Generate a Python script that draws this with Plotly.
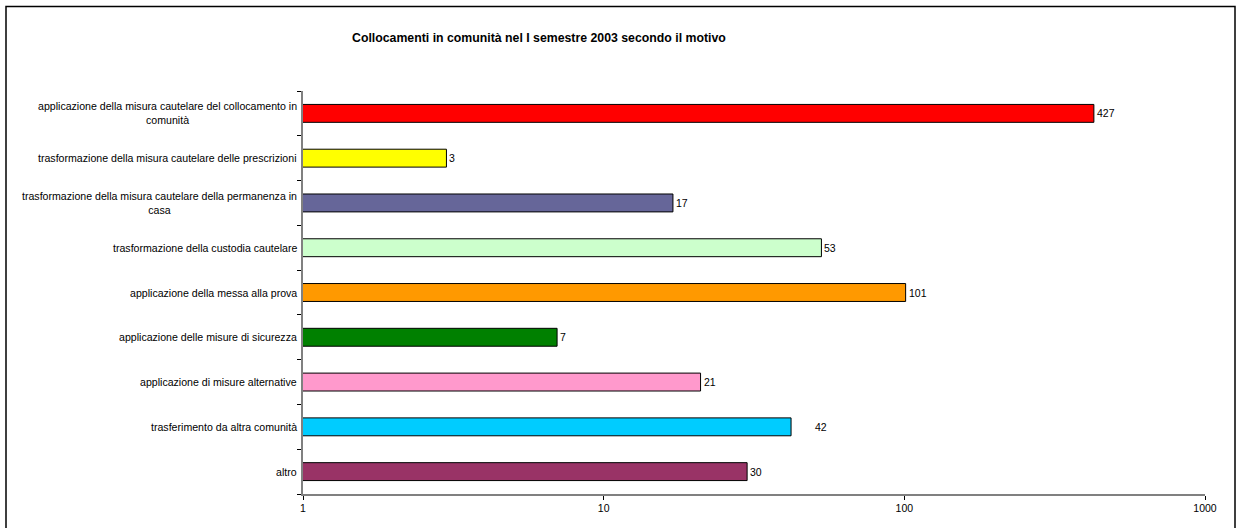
import math
import plotly.graph_objects as go

categories = [
    "applicazione della misura cautelare del collocamento in<br>comunità",
    "trasformazione della misura cautelare delle prescrizioni",
    "trasformazione della misura cautelare della permanenza in<br>casa",
    "trasformazione della custodia cautelare",
    "applicazione della messa alla prova",
    "applicazione delle misure di sicurezza",
    "applicazione di misure alternative",
    "trasferimento da altra comunità",
    "altro",
]
values = [427, 3, 17, 53, 101, 7, 21, 42, 30]
colors = ["#FF0000", "#FFFF00", "#666699", "#CCFFCC", "#FF9900",
          "#008000", "#FF99CC", "#00CCFF", "#993366"]
label_shift = [1, 1, 1, 1, 1, 1, 1, 22, 1]
title = "Collocamenti in comunità nel I semestre 2003 secondo il motivo"
x_ticks = [1, 10, 100, 1000]

FONT = "Liberation Sans, Arial, sans-serif"
W, H = 1237, 528
L, R, T, B = 303, 32, 90.5, 34
PW, PH = W - L - R, H - T - B

fig = go.Figure(go.Bar(
    y=categories, x=values, orientation="h",
    marker=dict(color=colors, line=dict(color="#000000", width=1)),
    width=0.4, hoverinfo="skip",
))

for cat, v, s in zip(categories, values, label_shift):
    fig.add_annotation(x=math.log10(v), y=cat, xref="x", yref="y",
                       text=str(v), showarrow=False, xanchor="left",
                       xshift=s, font=dict(family=FONT, size=10.5, color="#000000"))
    fig.add_annotation(x=0, y=cat, xref="paper", yref="y", text=cat,
                       showarrow=False, xanchor="right", align="center",
                       xshift=-4, font=dict(family=FONT, size=10.6, color="#000000"))

fig.add_annotation(x=(539 - L) / PW, y=1 + (T - 37) / PH, xref="paper", yref="paper",
                   text="<b>" + title + "</b>", showarrow=False,
                   xanchor="center", yanchor="middle",
                   font=dict(family=FONT, size=12.3, color="#000000"))

fig.add_shape(type="rect", xref="paper", yref="paper",
              x0=-(L - 6) / PW, x1=1 + (1235 - (W - R)) / PW,
              y0=-(B + 10) / PH, y1=1 + (T - 6) / PH,
              line=dict(color="#000000", width=1.5), layer="below")

fig.update_layout(
    width=W, height=H, autosize=False,
    margin=dict(l=L, r=R, t=T, b=B),
    paper_bgcolor="white", plot_bgcolor="white",
    showlegend=False,
    font=dict(family=FONT, size=10.5, color="#000000"),
    xaxis=dict(type="log", range=[0, 3], tickvals=x_ticks,
               ticktext=[str(t) for t in x_ticks],
               showgrid=False, zeroline=False, showline=True,
               linecolor="#808080", linewidth=1.5,
               ticks="outside", ticklen=4, tickcolor="#000000",
               tickfont=dict(family=FONT, size=10.5, color="#000000")),
    yaxis=dict(categoryorder="array", categoryarray=categories[::-1],
               autorange=False, range=[-0.5, len(categories) - 0.5],
               showticklabels=False, showgrid=False, zeroline=False,
               showline=True, linecolor="#808080", linewidth=1.5,
               ticks="outside", ticklen=4, tickcolor="#000000",
               tickson="boundaries"),
)

fig.write_html("out.html", config={"displayModeBar": False},
               post_script="document.body.style.margin='0';document.body.style.overflow='hidden';")
